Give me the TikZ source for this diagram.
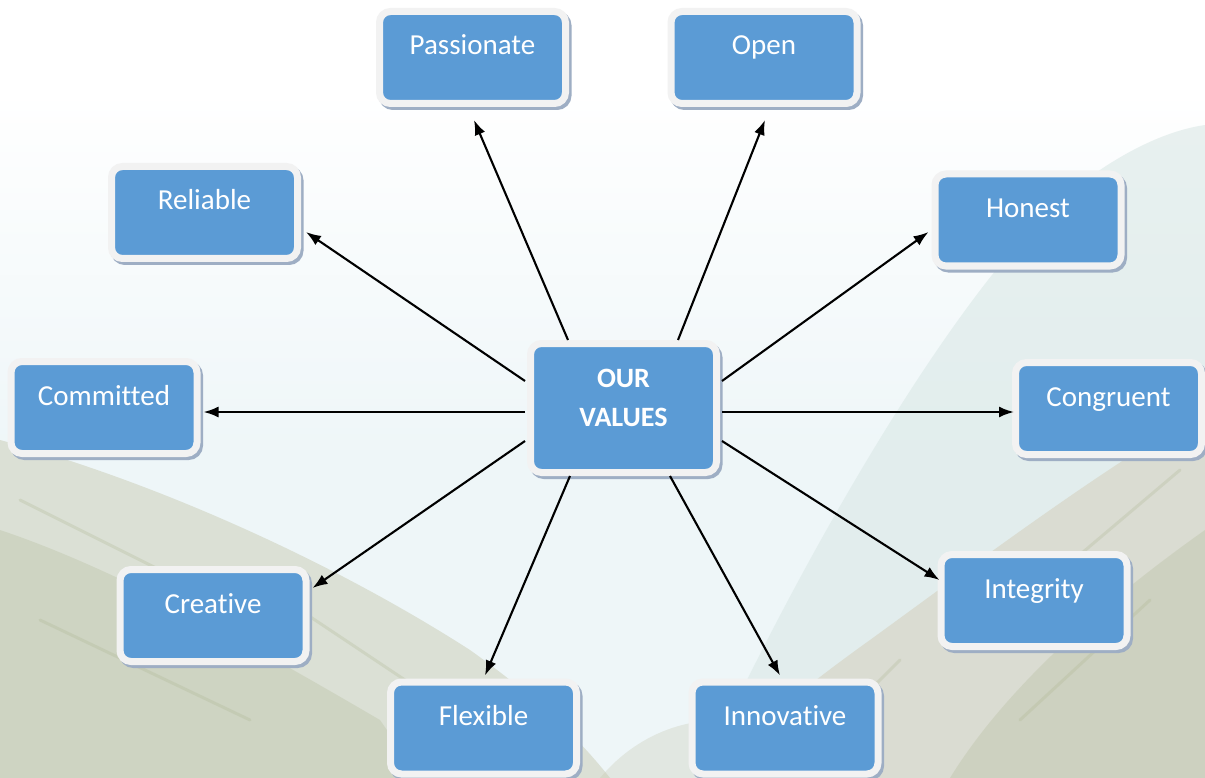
\documentclass[tikz,border=0pt]{standalone}
\usepackage{fontspec}
\setmainfont{Carlito}[Ligatures=NoCommon]
\usetikzlibrary{arrows.meta,calc}

\definecolor{boxblue}{RGB}{91,155,213}
\definecolor{rimgray}{RGB}{242,242,242}
\definecolor{rimshade}{RGB}{158,174,196}
\definecolor{skytint}{RGB}{238,246,248}
\definecolor{hillA}{RGB}{196,198,172}
\definecolor{hillB}{RGB}{170,178,140}
\definecolor{hillC}{RGB}{206,196,170}
\definecolor{farhill}{RGB}{218,232,230}

\tikzset{
  boxbase/.style={rectangle, rounded corners=11pt, fill=boxblue, draw=rimgray,
    line width=7pt, inner sep=0pt, minimum width=186pt,
    preaction={draw=rimshade, fill=rimshade, line width=7pt,
      transform canvas={xshift=2.5pt, yshift=-3pt}}},
  value/.style={boxbase, text=white, font=\fontsize{29}{34}\selectfont,
    text height=43.5pt, text depth=48.5pt},
  hub/.style={boxbase, minimum height=129pt},
  hubtext/.style={text=white, font=\fontsize{28}{39}\selectfont\bfseries,
    align=center, inner sep=0pt},
  arr/.style={draw=black, line width=2.1pt,
    -{Latex[length=15pt, width=11pt]}},
  streak/.style={draw=hillB, line width=3pt, opacity=0.25, line cap=round},
}

\begin{document}
\begin{tikzpicture}[x=1pt, y=-1pt]
  \useasboundingbox (0,0) rectangle (1205,778);

  % faded valley scenery behind the chart
  \fill[white] (0,0) rectangle (1205,778);
  \shade[top color=white, bottom color=skytint] (0,90) rectangle (1205,460);
  \fill[skytint] (0,460) rectangle (1205,778);
  \fill[farhill, opacity=0.6] (700,778) .. controls (800,560) and (950,300) .. (1060,200)
    .. controls (1120,150) and (1170,130) .. (1205,125) -- (1205,778) -- cycle;
  \fill[hillA, opacity=0.45] (0,440) .. controls (150,480) and (330,560) .. (470,650)
    .. controls (540,700) and (580,740) .. (610,778) -- (0,778) -- cycle;
  \fill[hillB, opacity=0.25] (0,530) .. controls (120,570) and (260,650) .. (380,720)
    -- (420,778) -- (0,778) -- cycle;
  \fill[hillC, opacity=0.4] (1205,410) .. controls (1100,470) and (980,560) .. (870,640)
    .. controls (800,690) and (740,740) .. (700,778) -- (1205,778) -- cycle;
  \fill[hillB, opacity=0.25] (1205,530) .. controls (1120,590) and (1010,680) .. (950,778)
    -- (1205,778) -- cycle;
  \fill[hillA, opacity=0.3] (600,778) .. controls (640,730) and (700,710) .. (760,725)
    -- (800,778) -- cycle;
  % slope texture
  \draw[streak] (20,500) -- (180,580);
  \draw[streak] (40,620) -- (250,720);
  \draw[streak] (300,610) -- (420,690);
  \draw[streak] (1180,470) -- (1050,580);
  \draw[streak] (1150,600) -- (1020,720);
  \draw[streak] (900,660) -- (820,740);

  % central hub
  \node[hub] (ctr) at (623.5,408) {};
  \node[hubtext, anchor=north] (ctrtxt) at ([yshift=-29pt]ctr.north) {OUR\\VALUES};

  % value boxes
  \node[value] (pas) at (472.5,57.5)  {Passionate};
  \node[value] (opn) at (764,57.5)    {Open};
  \node[value] (rel) at (204.5,212.5) {Reliable};
  \node[value] (hon) at (1028,220)    {Honest};
  \node[value] (com) at (104,407.5)   {Committed};
  \node[value] (cng) at (1108.5,408.5){Congruent};
  \node[value] (cre) at (213,615.5)   {Creative};
  \node[value] (itg) at (1034,600.5)  {Integrity};
  \node[value] (flx) at (483.5,728)   {Flexible};
  \node[value] (inv) at (785,728)     {Innovative};

  % connectors from the hub to each value
  \draw[arr] ([xshift=-55.5pt]ctr.north) -- ([xshift=1.5pt, yshift=-13pt]pas.south);
  \draw[arr] ([xshift=54.5pt]ctr.north)  -- ([xshift=1pt, yshift=-13pt]opn.south);
  \draw[arr] ([xshift=-2pt, yshift=27pt]ctr.west) -- ([xshift=5pt, yshift=-19.5pt]rel.east);
  \draw[arr] ([xshift=2pt, yshift=27pt]ctr.east)  -- ([xshift=-3pt, yshift=-12pt]hon.west);
  \draw[arr] ([xshift=-2pt, yshift=-4pt]ctr.west) -- ([xshift=3pt, yshift=-4.5pt]com.east);
  \draw[arr] ([xshift=2pt, yshift=-4pt]ctr.east)  -- ([xshift=2pt, yshift=-3.5pt]cng.west);
  \draw[arr] ([xshift=-2pt, yshift=-33pt]ctr.west) -- ([xshift=3pt, yshift=27.5pt]cre.east);
  \draw[arr] ([xshift=2pt, yshift=-33pt]ctr.east)  -- ([xshift=2pt, yshift=20.5pt]itg.west);
  \draw[arr] ([xshift=-53.5pt]ctr.south) -- ([xshift=1.5pt, yshift=3pt]flx.north);
  \draw[arr] ([xshift=46.5pt]ctr.south)  -- ([xshift=-5pt, yshift=3pt]inv.north);
\end{tikzpicture}
\end{document}
